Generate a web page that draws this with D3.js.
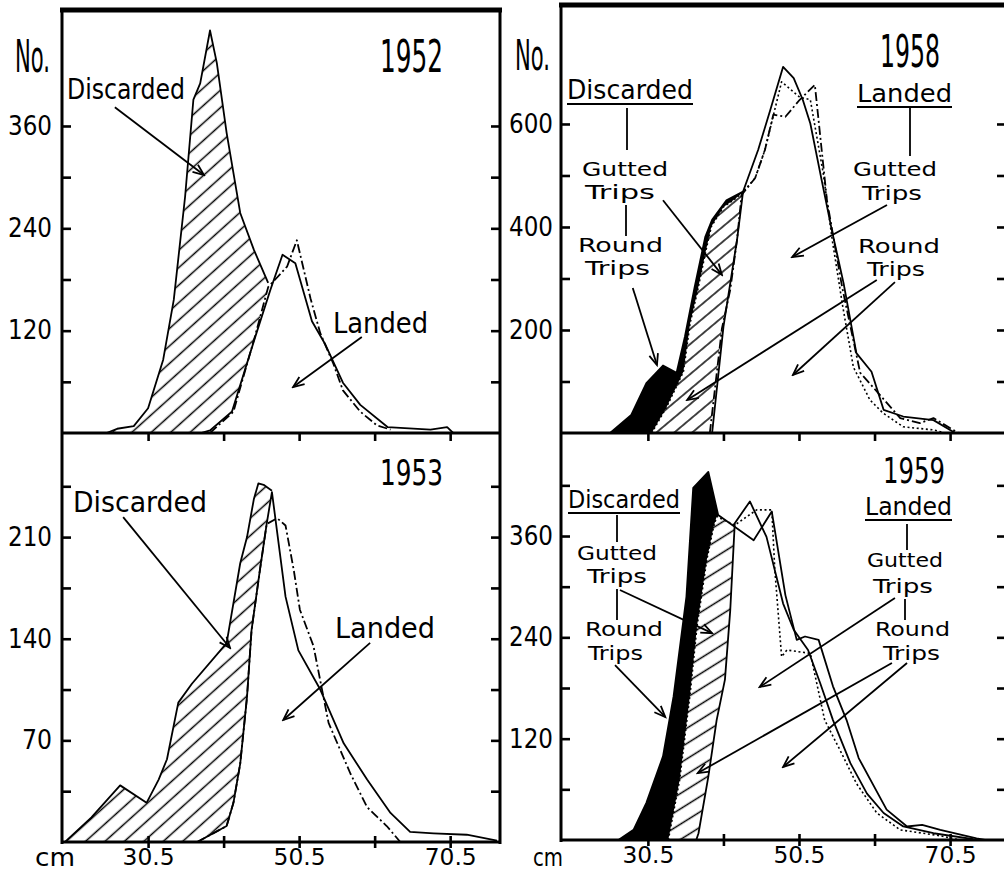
<!DOCTYPE html>
<html>
<head>
<meta charset="utf-8">
<script src="https://cdn.jsdelivr.net/npm/d3@7"></script>
<style>
  html, body { margin: 0; padding: 0; background: #fff; }
  svg { display: block; }
  text { font-family: "DejaVu Sans Condensed", "DejaVu Sans", sans-serif; font-stretch: condensed; fill: #000; }
</style>
</head>
<body>
<svg id="chart" width="1004" height="873"></svg>
<script>
// ---------------- data: length (cm) vs number of fish ----------------
const lengthTicks  = [30.5, 40.5, 50.5, 60.5, 70.5];
const lengthLabels = [30.5, 50.5, 70.5];

// 1952
const ticks1952  = [60, 120, 180, 240, 300, 360];
const labels1952 = [120, 240, 360];
const catch1952 = [[25.0,0],[26.4,5],[28.6,8],[30.5,29],[32.5,86],[33.9,156],[35.4,277],[36.5,391],[37.4,410],[38.7,472],[39.6,434],[40.9,352],[42.7,258],[44.5,215],[46.4,176]];
const landedSolid1952 = [[37.5,0],[38.7,3],[41.6,25],[44.7,113],[46.7,168],[48.3,209],[50.0,199],[52.2,131],[53.9,105],[56.3,59],[58.6,33],[62.2,7],[67.9,4],[70.1,7],[70.9,0],[77.0,0]];
const landedDash1952 = [[38.7,0],[41.8,25],[44.7,115],[46.4,171],[48.9,195],[50.2,226],[52.0,158],[53.3,117],[55.0,82],[56.3,50],[58.6,25],[60.8,9],[62.6,4]];

// 1953
const ticks1953  = [35, 70, 105, 140, 175, 210, 245];
const labels1953 = [70, 140, 210];
const catch1953 = [[19.5,0],[23.0,17],[26.8,39],[30.3,27],[31.9,43],[33.0,57],[34.5,96],[36.3,109],[40.9,137],[42.7,192],[43.6,210],[44.5,236],[45.1,247],[45.8,246],[46.9,242]];
const landedSolid1953 = [[37.0,0],[40.9,11],[41.8,27],[42.7,54],[43.6,100],[44.2,146],[45.3,187],[46.2,219],[46.9,241],[48.7,169],[50.4,132],[53.3,105],[56.4,68],[59.5,43],[62.6,20],[65.2,7],[68.3,6],[72.7,5],[76.7,1]];
const landedDash1953 = [[37.0,0],[40.9,11],[41.8,27],[42.7,54],[43.6,100],[44.2,146],[45.3,187],[46.2,219],[47.6,223],[48.7,218],[49.8,187],[50.6,160],[52.4,135],[54.4,82],[57.3,47],[59.5,24],[62.1,11],[63.9,0]];

// 1958
const ticks1958  = [100, 200, 300, 400, 500, 600];
const labels1958 = [200, 400, 600];
const roundCatch1958 = [[25.5,0],[28.3,35],[30.3,97],[32.5,131],[34.3,117],[35.4,187],[36.7,284],[38.1,381],[39.0,414],[40.9,452],[43.1,469]];
const guttedCatch1958 = [[31.0,0],[33.0,51],[35.2,119],[36.1,214],[37.0,271],[38.1,349],[38.9,401],[40.5,439],[41.8,452],[42.9,465],[44.7,495],[46.0,550],[48.2,682],[50.6,652],[52.0,647],[53.7,505],[54.9,375],[56.3,245],[57.7,128],[59.9,64],[61.6,39],[64.3,12],[68.3,6],[69.8,0]];
const landedRound1958 = [[39.0,0],[40.5,206],[42.3,375],[43.1,469],[45.1,550],[46.7,627],[48.4,711],[49.8,689],[51.0,647],[52.0,601],[53.5,491],[54.9,390],[56.4,291],[58.1,155],[60.1,119],[61.7,45],[64.3,32],[68.3,25],[70.5,6],[71.2,0]];
const landedGutted1958 = [[38.7,0],[40.3,203],[41.4,278],[42.3,375],[42.9,462],[44.7,495],[46.0,550],[47.1,618],[48.7,614],[50.6,647],[52.6,676],[54.2,452],[56.2,284],[58.6,117],[60.6,84],[63.9,29],[66.5,19],[68.3,29],[70.9,6],[71.6,0]];

// 1959
const ticks1959  = [60, 120, 180, 240, 300, 360, 420];
const labels1959 = [120, 240, 360];
const roundCatch1959 = [[26.6,0],[28.6,12],[30.3,44],[32.5,99],[33.9,170],[35.6,288],[36.5,417],[38.5,436],[39.8,385],[44.5,355],[46.9,389],[48.7,290],[50.2,237],[51.3,241],[53.1,237],[55.0,182],[56.8,142],[58.4,97],[62.1,36],[64.8,16],[66.8,18],[69.2,12],[74.0,2],[75.1,0]];
const guttedCatch1959 = [[33.2,0],[34.7,71],[36.1,174],[37.0,253],[38.3,332],[39.2,371],[39.6,383],[42.0,373],[44.9,391],[46.9,391],[47.3,320],[48.2,217],[48.9,225],[52.0,221],[53.9,142],[55.9,107],[58.1,67],[60.8,32],[63.9,12],[69.2,5],[71.8,0]];
const landed1959 = [[36.9,0],[37.2,8],[38.5,75],[39.6,142],[40.7,190],[41.4,272],[42.0,375],[44.0,401],[46.2,359],[48.4,280],[49.8,249],[51.7,225],[53.3,186],[55.0,142],[57.3,91],[59.5,55],[61.7,32],[64.3,16],[68.3,8],[73.6,1]];

// ---------------- layout ----------------
const cols = {
  left:  { x0: 62,  x1: 500,  domain: [19.1, 77.1] },
  right: { x0: 561, x1: 1006, domain: [19.0, 77.9] }
};

const dashes = { solid: null, dashdot: "9,3,2,3", dotted: "2,2.6" };

const panels = [
  { col: "left", top: 10, base: 433, yMax: 496, ticks: ticks1952, labels: labels1952, pattern: "hatchWide",
    black: null, hatched: catch1952, hatchEnd: Infinity,
    landed: [landedSolid1952, landedDash1952],
    lines: [ {d: catch1952, s: "solid"}, {d: landedSolid1952, s: "solid"}, {d: landedDash1952, s: "dashdot"} ],
    arrows: [[26.1,382,37.9,302.5],[58.8,112.6,49.7,53.9]], bottomLabels: false },
  { col: "left", top: 433, base: 842, yMax: 281.7, ticks: ticks1953, labels: labels1953, pattern: "hatchWide",
    black: null, hatched: catch1953, hatchEnd: Infinity,
    landed: [landedSolid1953, landedDash1953],
    lines: [ {d: catch1953, s: "solid"}, {d: landedSolid1953, s: "solid"}, {d: landedDash1953, s: "dashdot"} ],
    arrows: [[27.2,223.8,41.35,133.6],[59.9,137.1,48.4,84.0]], bottomLabels: true },
  { col: "right", top: 5, base: 433, yMax: 831, ticks: ticks1958, labels: labels1958, pattern: "hatch58",
    black: roundCatch1958, blackEnd: Infinity, hatched: guttedCatch1958, hatchEnd: 42.9,
    landed: [landedRound1958, landedGutted1958],
    lines: [ {d: roundCatch1958, s: "solid"}, {d: guttedCatch1958, s: "dotted"}, {d: landedRound1958, s: "solid"}, {d: landedGutted1958, s: "dashdot"} ],
    arrows: [[32.5,452,40.3,307],[28.5,281.5,31.7,132],[62.15,442.7,49.6,341.7],[60.8,297,35.7,64],[63.2,293,49.7,112.6]], bottomLabels: false },
  { col: "right", top: 433, base: 840, yMax: 482, ticks: ticks1959, labels: labels1959, pattern: "hatch59",
    black: roundCatch1959, blackEnd: 39.8, hatched: guttedCatch1959, hatchEnd: 42.0,
    landed: [landed1959],
    lines: [ {d: roundCatch1959, s: "solid"}, {d: guttedCatch1959, s: "dotted"}, {d: landed1959, s: "solid"} ],
    arrows: [[26.8,296,39.0,245],[26.15,207,32.8,145.7],[63.2,286.6,45.3,181.2],[62.8,209.6,37.1,79.3],[64.8,209.6,48.4,86.5]], bottomLabels: true }
];

// [text, x, baseline, width, font size, underlined]
const notes = [
  ["No.", 15, 72, 35, 44], ["1952", 380, 72, 63, 45],
  ["Discarded", 67, 99, 118, 28], ["Landed", 333, 333, 95, 28],
  ["No.", 515, 70, 35, 42], ["1958", 880, 67, 60, 44],
  ["Discarded", 567, 99, 126, 27, true],
  ["Gutted", 582, 176, 86, 19.5], ["Trips", 585, 199, 70, 19.5],
  ["Round", 578, 252, 85, 19.5], ["Trips", 585, 275, 65, 19.5],
  ["Landed", 857, 102, 95, 24, true],
  ["Gutted", 853, 176, 84, 19.5], ["Trips", 862, 200, 60, 19.5],
  ["Round", 858, 253, 82, 19.5], ["Trips", 867, 276, 58, 19.5],
  ["1953", 380, 485, 63, 35],
  ["Discarded", 73, 512, 134, 28], ["Landed", 335, 638, 100, 28],
  ["cm", 35, 866, 40, 25],
  ["1959", 883, 483, 62, 35],
  ["Discarded", 568, 508, 112, 24, true],
  ["Gutted", 577, 560, 80, 19.5], ["Trips", 587, 583, 60, 19.5],
  ["Round", 585, 636, 78, 19.5], ["Trips", 588, 660, 55, 19.5],
  ["Landed", 865, 515, 87, 24, true],
  ["Gutted", 867, 567, 76, 19.5], ["Trips", 873, 593, 60, 19.5],
  ["Round", 875, 636, 75, 19.5], ["Trips", 883, 660, 57, 19.5],
  ["cm", 533, 866, 30, 24]
];

// short vertical strokes joining the stacked legend words
const connectors = [[627,108,627,150],[626,205,626,236],[910,108,910,156],
                    [617,515,617,542],[617,589,617,620],[907,524,907,550],[905,599,905,620]];

// ---------------- drawing ----------------
const svg = d3.select("#chart");
const defs = svg.append("defs");

defs.append("marker")
  .attr("id", "arrowHead").attr("viewBox", "-13 -7 15 14")
  .attr("refX", 0).attr("refY", 0)
  .attr("markerWidth", 15).attr("markerHeight", 14)
  .attr("markerUnits", "userSpaceOnUse").attr("orient", "auto")
  .append("path").attr("d", "M-11,-4.5 L0,0 L-11,4.5")
  .attr("fill", "none").attr("stroke", "#000").attr("stroke-width", 1.8);

function hatchPattern(id, spacing, angle, width) {
  const p = defs.append("pattern").attr("id", id)
    .attr("patternUnits", "userSpaceOnUse")
    .attr("width", 40).attr("height", spacing)
    .attr("patternTransform", `rotate(${-angle})`);
  p.append("rect").attr("width", 40).attr("height", spacing).attr("fill", "#fff");
  p.append("line").attr("x1", 0).attr("x2", 40)
    .attr("y1", spacing / 2).attr("y2", spacing / 2)
    .attr("stroke", "#000").attr("stroke-width", width);
}
hatchPattern("hatchWide", 13, 42, 1.7);
hatchPattern("hatch58", 11.5, 40, 1.4);
hatchPattern("hatch59", 13, 32, 1.4);

const fmtInt = d3.format("d");
const fmtLen = d3.format(".1f");

panels.forEach((p, i) => {
  const c = cols[p.col];
  const x = d3.scaleLinear().domain(c.domain).range([c.x0, c.x1]);
  const y = d3.scaleLinear().domain([0, p.yMax]).range([p.base, p.top]);
  const g = svg.append("g");

  defs.append("clipPath").attr("id", "plotClip" + i)
    .append("rect").attr("x", c.x0).attr("y", p.top)
    .attr("width", c.x1 - c.x0).attr("height", p.base - p.top);
  const plot = g.append("g").attr("clip-path", `url(#plotClip${i})`);

  const area = d3.area().x(d => x(d[0])).y0(y(0)).y1(d => y(d[1]));
  const line = d3.line().x(d => x(d[0])).y(d => y(d[1]));

  if (p.black) {
    plot.append("path").attr("d", area(p.black.filter(d => d[0] <= p.blackEnd))).attr("fill", "#000");
  }
  plot.append("path").attr("d", area(p.hatched.filter(d => d[0] <= p.hatchEnd)))
    .attr("fill", `url(#${p.pattern})`);
  p.landed.forEach(L => plot.append("path").attr("d", area(L)).attr("fill", "#fff"));
  p.lines.forEach(L => {
    plot.append("path").attr("d", line(L.d))
      .attr("fill", "none").attr("stroke", "#000")
      .attr("stroke-width", L.s === "dotted" ? 1.6 : 1.8)
      .attr("stroke-linejoin", "round")
      .attr("stroke-dasharray", dashes[L.s]);
  });

  // tick marks pointing inward from both side borders
  const tickStyle = sel => {
    sel.select(".domain").remove();
    sel.selectAll(".tick line").attr("stroke", "#000").attr("stroke-width", 2.6);
  };
  g.append("g").attr("transform", `translate(${c.x0},0)`)
    .call(d3.axisRight(y).tickValues(p.ticks).tickSize(9).tickFormat(""))
    .call(tickStyle);
  g.append("g").attr("transform", `translate(${c.x1},0)`)
    .call(d3.axisLeft(y).tickValues(p.ticks).tickSize(9).tickFormat(""))
    .call(tickStyle);

  // value labels
  const yl = g.append("g").attr("transform", `translate(${c.x0},0)`)
    .call(d3.axisLeft(y).tickValues(p.labels).tickSize(0).tickPadding(p.col === "left" ? 10 : 8).tickFormat(fmtInt));
  yl.select(".domain").remove();
  yl.attr("font-family", null).attr("font-size", null);
  yl.selectAll("text")
    .attr("font-size", 26)
    .attr("textLength", d => String(d).length * 14 + 2)
    .attr("lengthAdjust", "spacingAndGlyphs");

  // length ticks on the panel's base line
  if (p.bottomLabels) {
    g.append("g").attr("transform", `translate(0,${p.base})`)
      .call(d3.axisTop(x).tickValues(lengthTicks).tickSize(6).tickFormat("")).call(tickStyle);
    g.append("g").attr("transform", `translate(0,${p.base})`)
      .call(d3.axisBottom(x).tickValues(lengthTicks).tickSize(6).tickFormat("")).call(tickStyle);
    const xl = g.append("g").attr("transform", `translate(0,${p.base})`)
      .call(d3.axisBottom(x).tickValues(lengthLabels).tickSize(0).tickPadding(7).tickFormat(fmtLen));
    xl.select(".domain").remove();
    xl.attr("font-family", null).attr("font-size", null);
    xl.selectAll("text").attr("font-size", 23)
      .attr("textLength", 52).attr("lengthAdjust", "spacingAndGlyphs");
  } else {
    g.append("g").attr("transform", `translate(0,${p.base})`)
      .call(d3.axisBottom(x).tickValues(lengthTicks).tickSize(8).tickFormat("")).call(tickStyle);
  }

  // annotation arrows
  p.arrows.forEach(a => {
    g.append("line")
      .attr("x1", x(a[0])).attr("y1", y(a[1]))
      .attr("x2", x(a[2])).attr("y2", y(a[3]))
      .attr("stroke", "#000").attr("stroke-width", 1.8)
      .attr("marker-end", "url(#arrowHead)");
  });
});

// frames
const frame = svg.append("g").attr("stroke", "#000").attr("fill", "none");
const seg = (x1, y1, x2, y2, w) => frame.append("line")
  .attr("x1", x1).attr("y1", y1).attr("x2", x2).attr("y2", y2).attr("stroke-width", w);
// left column
seg(62, 8, 62, 844, 3);
seg(500, 8, 500, 844, 3);
seg(60, 10, 502, 10, 5);
seg(62, 433, 500, 433, 3);
seg(62, 842, 500, 842, 3);
// right column
seg(561, 3, 561, 842, 3);
seg(1006, 3, 1006, 842, 3);
seg(559, 5, 1004, 5, 5);
seg(561, 433, 1006, 433, 3);
seg(561, 840, 1006, 840, 3);

// legend connectors
connectors.forEach(c => seg(c[0], c[1], c[2], c[3], 1.8));

// text labels
const lab = svg.append("g");
notes.forEach(n => {
  lab.append("text")
    .attr("x", n[1]).attr("y", n[2])
    .attr("font-size", n[4])
    .attr("textLength", n[3]).attr("lengthAdjust", "spacingAndGlyphs")
    .text(n[0]);
  if (n[5]) {
    lab.append("line")
      .attr("x1", n[1]).attr("x2", n[1] + n[3])
      .attr("y1", n[2] + 5).attr("y2", n[2] + 5)
      .attr("stroke", "#000").attr("stroke-width", 2);
  }
});
</script>
</body>
</html>
